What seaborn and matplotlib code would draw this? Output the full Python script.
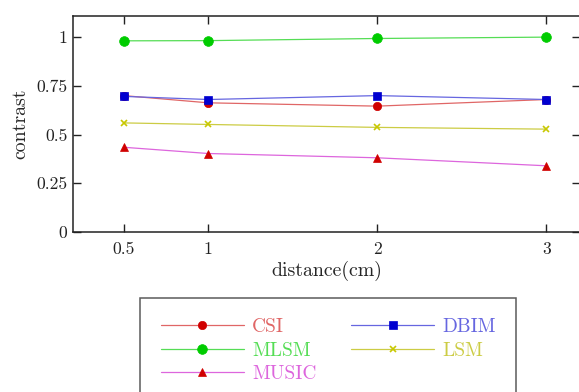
import matplotlib
matplotlib.use("Agg")
import matplotlib.pyplot as plt
import seaborn as sns
import pandas as pd

distance = [0.5, 1, 2, 3]
csi = [0.70, 0.663, 0.646, 0.68]
dbim = [0.696, 0.68, 0.70, 0.68]
mlsm = [0.981, 0.982, 0.993, 1.0]
lsm = [0.56, 0.552, 0.537, 0.528]
music = [0.435, 0.403, 0.381, 0.34]

yTicks = [0, 0.25, 0.5, 0.75, 1]
yTickLabels = ["0", "0.25", "0.5", "0.75", "1"]
xTicks = [0.5, 1, 2, 3]
xTickLabels = ["0.5", "1", "2", "3"]

sns.set_style("ticks")
plt.rcParams["font.family"] = ["cmr10", "DejaVu Serif"]
plt.rcParams["axes.formatter.use_mathtext"] = True

fig = plt.figure(figsize=(5.79, 3.92), dpi=100)
ax = fig.add_axes([0.126, 0.408, 0.876, 0.551])

# name, values, line colour, marker, marker colour, marker size
series = [
    ("CSI", csi, "#e06666", "o", "#d00000", 6),
    ("DBIM", dbim, "#6666e0", "s", "#0000d0", 6),
    ("MLSM", mlsm, "#55dd55", "o", "#00cc00", 7),
    ("LSM", lsm, "#cccc44", "x", "#c8c800", 5),
    ("MUSIC", music, "#dd66dd", "^", "#d00000", 6),
]

handles = {}
for name, vals, lc, mk, mc, ms in series:
    df = pd.DataFrame({"distance": distance, "contrast": vals})
    sns.lineplot(data=df, x="distance", y="contrast", ax=ax, color=lc,
                 linewidth=0.9, marker=mk, markersize=ms, markerfacecolor=mc,
                 markeredgecolor=mc, markeredgewidth=1.2 if mk == "x" else 0.5)
    handles[name] = ax.lines[-1]

ax.set_xlim(0.2, 3.2)
ax.set_ylim(0, 1.108)
ax.set_xticks(xTicks)
ax.set_xticklabels(xTickLabels)
ax.set_yticks(yTicks)
ax.set_yticklabels(yTickLabels)
ax.tick_params(direction="in", top=True, right=True, length=6, width=1,
               labelsize=12.7, colors="#222222")
ax.tick_params(axis="x", pad=7)
ax.tick_params(axis="y", pad=4)
for s in ax.spines.values():
    s.set_linewidth(1.1)
    s.set_color("#222222")
ax.set_xlabel("distance(cm)", fontsize=14.3, labelpad=3)
ax.set_ylabel("contrast", fontsize=14.3, labelpad=5)

order = ["CSI", "MLSM", "MUSIC", "DBIM", "LSM"]
leg = fig.legend([handles[n] for n in order], order, loc="upper left",
                 bbox_to_anchor=(0.242, 0.240), ncol=2, fontsize=14,
                 handlelength=4.3, handletextpad=0.42, columnspacing=1.75,
                 labelspacing=0.28, borderpad=1.05, fancybox=False,
                 frameon=True, edgecolor="#333333", borderaxespad=0)
leg.get_frame().set_linewidth(1.1)
colours = {n: lc for n, _, lc, *_ in series}
for txt in leg.get_texts():
    txt.set_color(colours[txt.get_text()])

fig.savefig("out.png", dpi=100)
